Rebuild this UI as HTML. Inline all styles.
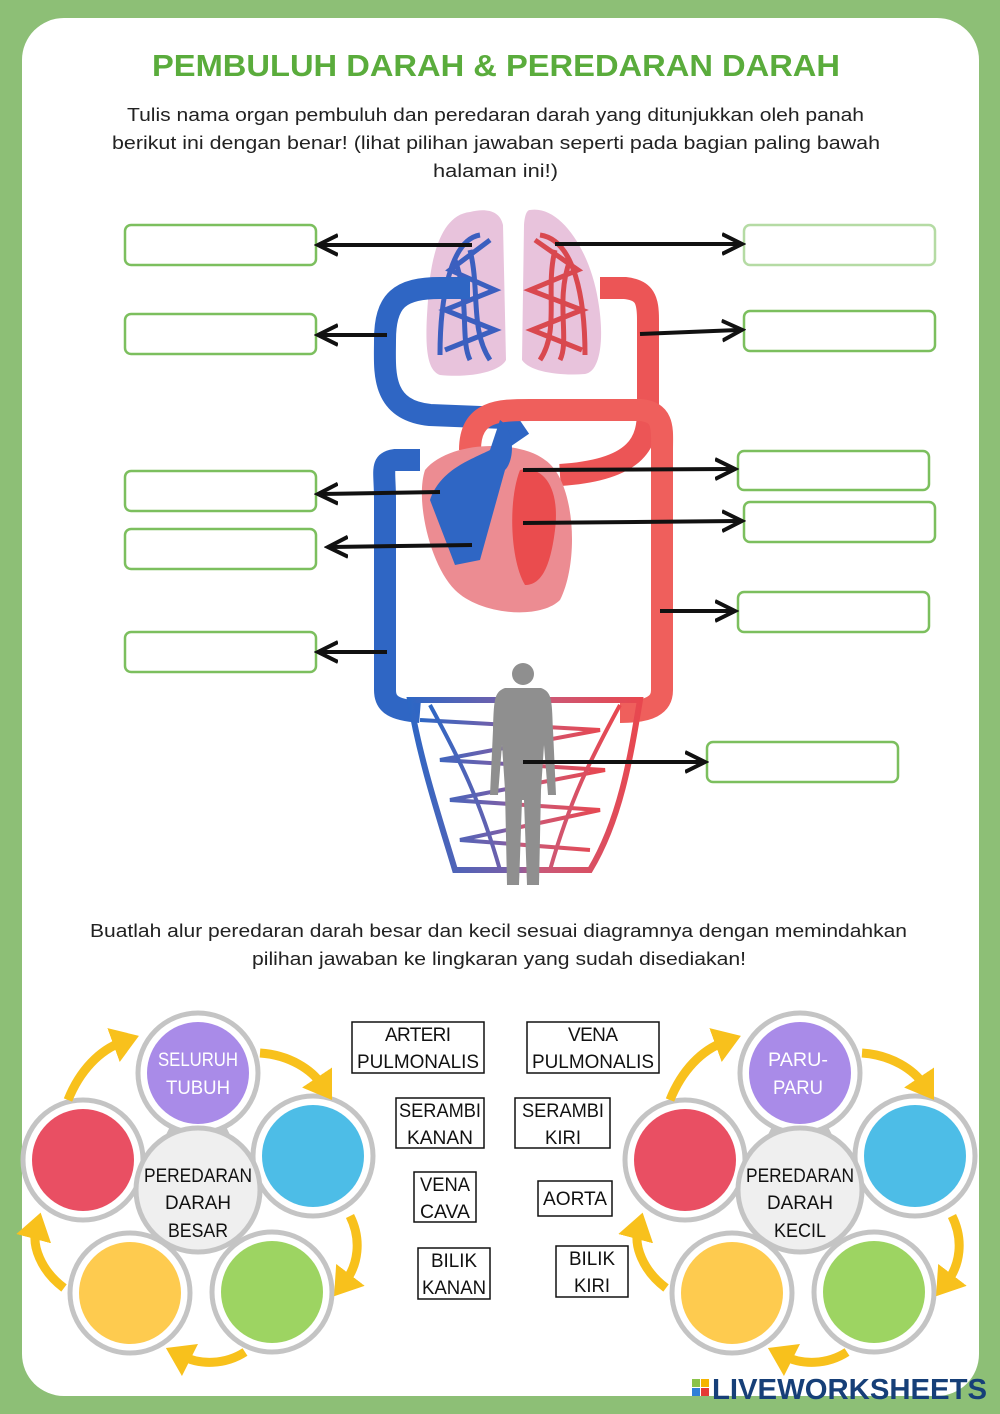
<!DOCTYPE html>
<html><head><meta charset="utf-8"><style>
body{margin:0;width:1000px;height:1414px;background:#8dbf76;font-family:"Liberation Sans","DejaVu Sans",sans-serif;overflow:hidden}
svg{display:block}
</style></head><body>
<svg width="1000" height="1414" viewBox="0 0 1000 1414" xmlns="http://www.w3.org/2000/svg" font-family="Liberation Sans, DejaVu Sans, sans-serif">
<defs>
<marker id="ah" markerWidth="6" markerHeight="6" refX="4" refY="3" orient="auto" markerUnits="strokeWidth"><path d="M0,0.5 L5,3 L0,5.5" fill="none" stroke="#111" stroke-width="1"/></marker>
<marker id="yh" markerWidth="4" markerHeight="4" refX="1" refY="2" orient="auto" markerUnits="strokeWidth"><path d="M0,0 L3,2 L0,4 Z" fill="#f8c11c"/></marker>
<linearGradient id="bot" x1="0" x2="1"><stop offset="0" stop-color="#2e67c4"/><stop offset="0.45" stop-color="#7a5fa8"/><stop offset="0.55" stop-color="#c85a7a"/><stop offset="1" stop-color="#e8474f"/></linearGradient>
<linearGradient id="top" x1="0" x2="1"><stop offset="0" stop-color="#3e6fc8"/><stop offset="0.5" stop-color="#b29ac8"/><stop offset="1" stop-color="#e85a5a"/></linearGradient>
</defs>
<rect x="22" y="18" width="957" height="1378" rx="42" fill="#fff"/>
<text x="152" y="76" font-size="31" font-weight="bold" fill="#5aac3c" textLength="688" lengthAdjust="spacingAndGlyphs">PEMBULUH DARAH &amp; PEREDARAN DARAH</text>
<g font-size="18" fill="#222">
<text x="127" y="121" textLength="737" lengthAdjust="spacingAndGlyphs">Tulis nama organ pembuluh dan peredaran darah yang ditunjukkan oleh panah</text>
<text x="112" y="149" textLength="768" lengthAdjust="spacingAndGlyphs">berikut ini dengan benar! (lihat pilihan jawaban seperti pada bagian paling bawah</text>
<text x="433" y="177" textLength="125" lengthAdjust="spacingAndGlyphs">halaman ini!)</text>
<text x="90" y="937" textLength="817" lengthAdjust="spacingAndGlyphs">Buatlah alur peredaran darah besar dan kecil sesuai diagramnya dengan memindahkan</text>
<text x="252" y="965" textLength="494" lengthAdjust="spacingAndGlyphs">pilihan jawaban ke lingkaran yang sudah disediakan!</text>
</g>
<!-- lungs -->
<path d="M470,212 C440,215 430,260 428,300 C425,340 425,370 440,375 C470,378 500,372 506,360 L503,225 C500,210 485,208 470,212Z" fill="#e8c3dc"/>
<path d="M530,210 C560,205 590,250 598,300 C605,340 600,372 585,374 C560,376 530,372 522,360 L524,225 C525,212 528,210 530,210Z" fill="#e8c3dc"/>
<g fill="none" stroke-width="5">
<path d="M480,235 C450,240 440,300 440,355 M490,240 L450,270 L495,290 L445,310 L495,330 L445,350 M470,250 C480,290 470,330 490,360 M455,260 C470,300 460,340 470,360" stroke="#3b5fbf"/>
<path d="M540,235 C575,240 585,300 585,355 M535,240 L578,270 L530,290 L582,310 L532,330 L582,350 M555,250 C545,290 560,330 540,360 M570,260 C555,300 570,340 560,360" stroke="#d9484f"/>
</g>
<!-- pulmonary loop -->
<path d="M520,440 L505,418 L430,415 C380,410 385,370 385,340 C385,300 400,288 440,288 L470,288" fill="none" stroke="#2f66c4" stroke-width="22"/>
<path d="M470,288 L600,288" stroke="url(#top)" stroke-width="10"/>
<path d="M600,288 L625,288 C645,290 648,300 648,320 L648,410 C648,440 640,470 560,475" fill="none" stroke="#ec5556" stroke-width="22"/>
<!-- systemic loop -->
<path d="M420,460 L395,460 C380,462 385,470 385,500 L385,690 C385,705 395,710 420,712" fill="none" stroke="#2f66c4" stroke-width="22"/>
<path d="M470,450 C470,410 500,410 530,410 L640,410 C665,412 662,430 662,450 L662,690 C662,705 650,712 620,712" fill="none" stroke="#ef5f5c" stroke-width="22"/>
<!-- capillaries -->
<path d="M410,700 L640,700 C630,760 620,820 590,870 L455,870 C440,820 420,760 410,700Z" fill="none" stroke="url(#bot)" stroke-width="6"/>
<g stroke="url(#bot)" stroke-width="4" fill="none">
<path d="M420,720 L600,730 L440,760 L605,770 L450,800 L600,810 L460,840 L590,850"/>
<path d="M430,705 C460,760 480,800 500,870 M620,705 C590,760 570,800 550,870"/>
</g>
<!-- heart -->
<path d="M425,470 C450,440 520,440 545,460 C575,480 580,560 560,600 C540,620 480,615 455,590 C430,565 415,500 425,470Z" fill="#ec8c92"/>
<path d="M500,420 C515,430 515,460 505,470 L480,560 L455,565 L430,500 C440,470 470,460 490,450Z" fill="#2f66c4"/>
<path d="M520,470 C545,465 560,490 555,530 C550,570 540,585 525,585 C510,560 508,500 520,470Z" fill="#ea4c4e"/>
<!-- human -->
<g fill="#8f8f8f">
<circle cx="523" cy="674" r="11"/>
<path d="M505,688 L541,688 C552,692 552,700 553,730 L556,795 L548,795 L544,745 L541,790 L539,885 L527,885 L524,800 L522,800 L519,885 L507,885 L505,790 L502,745 L498,795 L490,795 L493,730 C494,700 494,692 505,688Z"/>
</g>
<!-- answer boxes -->
<g fill="#fff" stroke="#7cbf5e" stroke-width="2.5">
<rect x="125" y="225" width="191" height="40" rx="6"/>
<rect x="125" y="314" width="191" height="40" rx="6"/>
<rect x="125" y="471" width="191" height="40" rx="6"/>
<rect x="125" y="529" width="191" height="40" rx="6"/>
<rect x="125" y="632" width="191" height="40" rx="6"/>
<rect x="744" y="225" width="191" height="40" rx="6" stroke="#b5dba4"/>
<rect x="744" y="311" width="191" height="40" rx="6"/>
<rect x="738" y="451" width="191" height="39" rx="6"/>
<rect x="744" y="502" width="191" height="40" rx="6"/>
<rect x="738" y="592" width="191" height="40" rx="6"/>
<rect x="707" y="742" width="191" height="40" rx="6"/>
</g>
<!-- pointer arrows -->
<g stroke="#111" stroke-width="4" fill="none" marker-end="url(#ah)">
<line x1="472" y1="245" x2="322" y2="245"/>
<line x1="387" y1="335" x2="322" y2="335"/>
<line x1="440" y1="492" x2="322" y2="494"/>
<line x1="472" y1="545" x2="332" y2="547"/>
<line x1="387" y1="652" x2="322" y2="652"/>
<line x1="555" y1="244" x2="738" y2="244"/>
<line x1="640" y1="334" x2="738" y2="330"/>
<line x1="523" y1="470" x2="731" y2="469"/>
<line x1="523" y1="523" x2="738" y2="521"/>
<line x1="660" y1="611" x2="731" y2="611"/>
<line x1="523" y1="762" x2="701" y2="762"/>
</g>
<!-- cycle diagrams -->
<g id="cyc">
<g fill="#fff" stroke="#c4c4c4" stroke-width="5">
<path d="M180,1120 L170,1140 M216,1120 L226,1140 M140,1165 L160,1170 M255,1160 L240,1170 M180,1245 L175,1240 M216,1245 L225,1240" stroke-width="12"/>
<circle cx="198" cy="1073" r="60"/>
<circle cx="313" cy="1156" r="60"/>
<circle cx="272" cy="1292" r="60"/>
<circle cx="130" cy="1293" r="60"/>
<circle cx="83" cy="1160" r="60"/>
<circle cx="198" cy="1190" r="62" fill="#efefef"/>
</g>
<circle cx="198" cy="1073" r="51" fill="#a98be8"/>
<circle cx="313" cy="1156" r="51" fill="#4dbde7"/>
<circle cx="272" cy="1292" r="51" fill="#9dd462"/>
<circle cx="130" cy="1293" r="51" fill="#fecb4f"/>
<circle cx="83" cy="1160" r="51" fill="#e94f63"/>
<g fill="none" stroke="#f8c11c" stroke-width="9" marker-end="url(#yh)">
<path d="M68,1100 C80,1070 100,1050 122,1042"/>
<path d="M260,1053 C290,1055 312,1070 322,1085"/>
<path d="M350,1216 C362,1240 358,1265 345,1282"/>
<path d="M245,1352 C225,1365 200,1365 182,1356"/>
<path d="M64,1288 C40,1270 32,1245 36,1230"/>
</g>
</g>
<use href="#cyc" transform="translate(602,0)"/>
<g font-size="19" text-anchor="middle">
<text x="198" y="1066" fill="#fff" textLength="80" lengthAdjust="spacingAndGlyphs">SELURUH</text><text x="198" y="1094" fill="#fff" textLength="64" lengthAdjust="spacingAndGlyphs">TUBUH</text>
<text x="198" y="1182" fill="#111" textLength="108" lengthAdjust="spacingAndGlyphs">PEREDARAN</text><text x="198" y="1209" fill="#111" textLength="66" lengthAdjust="spacingAndGlyphs">DARAH</text><text x="198" y="1237" fill="#111" textLength="60" lengthAdjust="spacingAndGlyphs">BESAR</text>
<text x="798" y="1066" fill="#fff" textLength="60" lengthAdjust="spacingAndGlyphs">PARU-</text><text x="798" y="1094" fill="#fff" textLength="50" lengthAdjust="spacingAndGlyphs">PARU</text>
<text x="800" y="1182" fill="#111" textLength="108" lengthAdjust="spacingAndGlyphs">PEREDARAN</text><text x="800" y="1209" fill="#111" textLength="66" lengthAdjust="spacingAndGlyphs">DARAH</text><text x="800" y="1237" fill="#111" textLength="52" lengthAdjust="spacingAndGlyphs">KECIL</text>
</g>
<!-- word boxes -->
<g fill="none" stroke="#111" stroke-width="1.5">
<rect x="352" y="1022" width="132" height="51"/>
<rect x="527" y="1022" width="132" height="51"/>
<rect x="396" y="1098" width="88" height="50"/>
<rect x="515" y="1098" width="95" height="50"/>
<rect x="414" y="1172" width="62" height="50"/>
<rect x="538" y="1181" width="74" height="35"/>
<rect x="418" y="1248" width="72" height="51"/>
<rect x="556" y="1246" width="72" height="51"/>
</g>
<g font-size="19" fill="#111" text-anchor="middle" lengthAdjust="spacingAndGlyphs">
<text x="418" y="1041" textLength="66">ARTERI</text><text x="418" y="1068" textLength="122" lengthAdjust="spacingAndGlyphs">PULMONALIS</text>
<text x="593" y="1041" textLength="50">VENA</text><text x="593" y="1068" textLength="122" lengthAdjust="spacingAndGlyphs">PULMONALIS</text>
<text x="440" y="1117" textLength="82" lengthAdjust="spacingAndGlyphs">SERAMBI</text><text x="440" y="1144" textLength="66" lengthAdjust="spacingAndGlyphs">KANAN</text>
<text x="563" y="1117" textLength="82" lengthAdjust="spacingAndGlyphs">SERAMBI</text><text x="563" y="1144" textLength="36" lengthAdjust="spacingAndGlyphs">KIRI</text>
<text x="445" y="1191" textLength="50" lengthAdjust="spacingAndGlyphs">VENA</text><text x="445" y="1218" textLength="50" lengthAdjust="spacingAndGlyphs">CAVA</text>
<text x="575" y="1205" textLength="64" lengthAdjust="spacingAndGlyphs">AORTA</text>
<text x="454" y="1267" textLength="46" lengthAdjust="spacingAndGlyphs">BILIK</text><text x="454" y="1294" textLength="64" lengthAdjust="spacingAndGlyphs">KANAN</text>
<text x="592" y="1265" textLength="46" lengthAdjust="spacingAndGlyphs">BILIK</text><text x="592" y="1292" textLength="36" lengthAdjust="spacingAndGlyphs">KIRI</text>
</g>
<!-- logo -->
<rect x="692" y="1379" width="8" height="8" fill="#8bc34a"/><rect x="701" y="1379" width="8" height="8" fill="#f5b400"/>
<rect x="692" y="1388" width="8" height="8" fill="#2f7fd8"/><rect x="701" y="1388" width="8" height="8" fill="#e53935"/>
<text x="712" y="1399" font-size="29" font-weight="bold" fill="#163f78" textLength="275" lengthAdjust="spacingAndGlyphs">LIVEWORKSHEETS</text>
</svg>
</body></html>
